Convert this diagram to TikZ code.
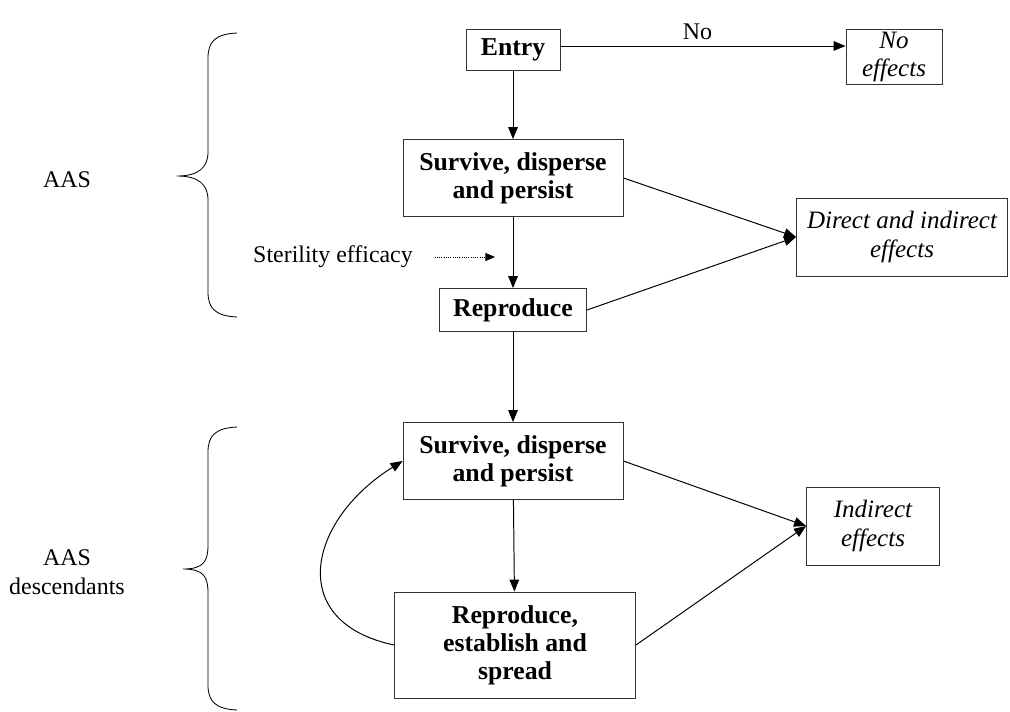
\documentclass[tikz,border=0pt]{standalone}
\usepackage{fontspec}
\setmainfont{Liberation Serif}
\usetikzlibrary{arrows.meta}

\begin{document}
\begin{tikzpicture}[
  x=0.025cm, y=-0.025cm,
  every node/.style={font=\fontsize{17}{21}\selectfont},
  box/.style={
    draw=black!80, line width=0.6pt, align=center,
    inner sep=2pt, font=\fontsize{18.3}{20}\selectfont\bfseries
  },
  outcome/.style={
    draw=black!80, line width=0.6pt, align=center,
    inner sep=2pt, font=\fontsize{17.8}{20}\selectfont\itshape
  },
  arrow/.style={-{Triangle[length=3mm, width=2.4mm]}, line width=0.7pt},
  curly/.style={line width=0.6pt}
]
  \useasboundingbox (0,0) rectangle (1010,711);

  % main column, AAS
  \node[box, minimum width=2.35cm, minimum height=1.025cm] (entry) at (513,50) {Entry};
  \node[box, minimum width=5.5cm, minimum height=1.925cm] (survive) at (513,178) {Survive, disperse\\and persist};
  \node[box, minimum width=3.675cm, minimum height=1.075cm] (repro) at (513,310) {Reproduce};

  % main column, descendants
  \node[box, minimum width=5.5cm, minimum height=1.925cm] (survivedesc) at (513,461) {Survive, disperse\\and persist};
  \node[box, minimum width=6.025cm, minimum height=2.65cm] (reprodesc) at (515,645) {Reproduce,\\establish and\\spread};

  % outcomes
  \node[outcome, minimum width=2.4cm, minimum height=1.375cm] (noeff) at (894,57) {No\\effects};
  \node[outcome, minimum width=5.275cm, minimum height=1.95cm] (direct) at (902,237) {Direct and indirect\\effects};
  \node[outcome, minimum width=3.325cm, minimum height=1.95cm] (indirect) at (873,526) {Indirect\\effects};

  % side labels
  \node (aas) at (67,180) {AAS};
  \node[align=center] (aasdesc) at (67,572) {AAS\\descendants};
  \node (steril) at (333,257) {Sterility efficacy};
  \coordinate (sterilend) at (495,257);

  % braces
  \foreach \ytop/\ybot/\ytip/\xtip in {33/317/176/177, 427/710/569/183} {
    \draw[curly] (237,\ytop) .. controls (215,\ytop+1) and (208,\ytop+9) .. (208,\ytop+25)
      -- (208,\ytip-24) .. controls (208,\ytip-8) and (\xtip+21,\ytip) .. (\xtip,\ytip)
      .. controls (\xtip+21,\ytip) and (208,\ytip+8) .. (208,\ytip+24)
      -- (208,\ybot-25) .. controls (208,\ybot-9) and (215,\ybot-1) .. (237,\ybot);
  }

  % vertical arrows
  \draw[arrow] (entry) -- (survive);
  \draw[arrow] (survive) -- (repro);
  \draw[arrow] (repro) -- (survivedesc);
  \draw[arrow] (survivedesc) -- (reprodesc);

  % no entry
  \draw[arrow] ([yshift=0.1cm]entry.east) -- ([yshift=0.1cm]entry.east -| noeff.west)
    node[midway, above, inner sep=4pt, xshift=-4pt] {No};

  % effects
  \draw[arrow] (survive.east) -- (direct.west);
  \draw[arrow] (repro.east) -- (direct.west);
  \draw[arrow] (survivedesc.east) -- (indirect.west);
  \draw[arrow] (reprodesc.east) -- (indirect.west);

  % sterility
  \draw[-{Triangle[length=2.4mm, width=2mm]}, densely dotted, line width=0.6pt]
    ([xshift=12pt]steril.east) -- (sterilend);

  % loop back
  \draw[arrow] (reprodesc.west) to[out=168, in=212, looseness=1.55] (survivedesc.west);

\end{tikzpicture}
\end{document}
